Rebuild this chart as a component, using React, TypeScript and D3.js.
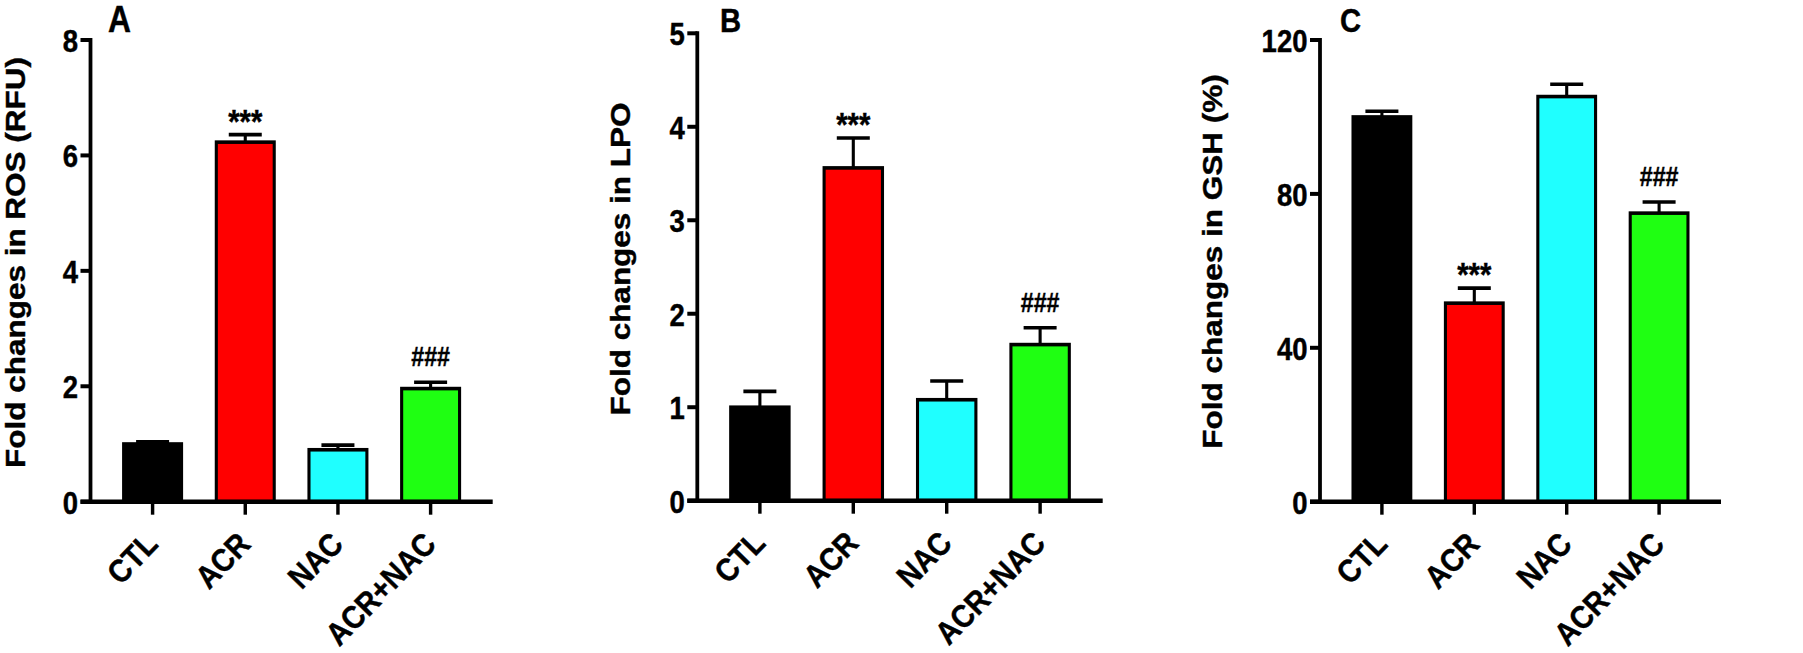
import React from "react";
import * as d3 from "d3";

const categories = ["CTL", "ACR", "NAC", "ACR+NAC"];
const barColors = ["#000000", "#FF0000", "#1FFFFF", "#1FFF12"];

const rosMean = [1.0, 6.23, 0.9, 1.96];
const rosSem = [0.04, 0.13, 0.08, 0.11];
const rosTicks = [0, 2, 4, 6, 8];
const rosMarks = ["", "***", "", "###"];

const lpoMean = [1.0, 3.56, 1.08, 1.67];
const lpoSem = [0.17, 0.32, 0.2, 0.18];
const lpoTicks = [0, 1, 2, 3, 4, 5];
const lpoMarks = ["", "***", "", "###"];

const gshMean = [100, 51.6, 105.3, 75.0];
const gshSem = [1.5, 3.9, 3.2, 2.9];
const gshTicks = [0, 40, 80, 120];
const gshMarks = ["", "***", "", "###"];

const SX = 0.86; // horizontal condensing of the original figure
const FONT = "'Liberation Sans', Arial, Helvetica, sans-serif";
const TXT = { fontFamily: FONT, fontWeight: 700 as const, stroke: "#000", strokeWidth: 0.45 };

type PanelProps = {
  letter: string;
  letterX: number;
  letterSize: number;
  axisX: number;
  xEnd: number;
  yTop: number;
  y0: number;
  ticks: number[];
  means: number[];
  sems: number[];
  marks: string[];
  title: string;
  titleX: number;
  titleY: number;
};

function Panel(p: PanelProps) {
  const ax = p.axisX / SX;
  const xe = p.xEnd / SX;
  const x = d3.scalePoint<string>().domain(categories).range([ax, xe]).padding(0.67);
  const step = x.step();
  const bw = step * 0.625;
  const y = d3
    .scaleLinear()
    .domain([0, p.ticks[p.ticks.length - 1]])
    .range([p.y0, p.yTop]);
  const tickLen = 10 / SX;
  const sw = 3.6;
  const capHalf = 16.5 / SX;
  return (
    <g>
      <g transform={`scale(${SX},1)`}>
        <text x={p.letterX / SX} y={32} fontSize={p.letterSize} {...TXT}>
          {p.letter}
        </text>
        <text
          transform={`translate(${p.titleX / SX},${p.titleY}) rotate(-90)`}
          textAnchor="middle"
          fontSize={31.5}
          {...TXT}
        >
          {p.title}
        </text>
        {categories.map((c, i) => {
          const cx = x(c)!;
          const top = y(p.means[i]);
          const errTop = y(p.means[i] + p.sems[i]);
          return (
            <g key={c}>
              <line x1={cx} x2={cx} y1={top} y2={errTop} stroke="#000" strokeWidth={sw} />
              <line
                x1={cx - capHalf}
                x2={cx + capHalf}
                y1={errTop}
                y2={errTop}
                stroke="#000"
                strokeWidth={sw}
              />
              <rect
                x={cx - bw / 2}
                y={top}
                width={bw}
                height={p.y0 - top}
                fill={barColors[i]}
                stroke="#000"
                strokeWidth={sw}
              />
              {p.marks[i] && (
                <text
                  x={cx}
                  y={p.marks[i] === "***" ? errTop - 2 : errTop - 16}
                  textAnchor="middle"
                  fontSize={p.marks[i] === "***" ? 34 : 27}
                  {...TXT}
                >
                  {p.marks[i]}
                </text>
              )}
              <line x1={cx} x2={cx} y1={p.y0} y2={p.y0 + 13} stroke="#000" strokeWidth={4} />
            </g>
          );
        })}
        {/* y axis */}
        <line x1={ax} x2={ax} y1={p.yTop - 2} y2={p.y0 + 2} stroke="#000" strokeWidth={4.4} />
        {p.ticks.map((t) => (
          <g key={t}>
            <line
              x1={ax - tickLen}
              x2={ax}
              y1={y(t)}
              y2={y(t)}
              stroke="#000"
              strokeWidth={4}
            />
            <text
              x={ax - tickLen - 2.5 / SX}
              y={y(t) + 12}
              textAnchor="end"
              fontSize={32}
              {...TXT}
            >
              {t}
            </text>
          </g>
        ))}
        {/* x axis */}
        <line x1={ax - tickLen} x2={xe} y1={p.y0} y2={p.y0} stroke="#000" strokeWidth={4.6} />
      </g>
      {/* category labels, drawn upright (no shear) */}
      {categories.map((c) => {
        const cxd = x(c)! * SX;
        return (
          <text
            key={c}
            transform={`translate(${cxd + 7},${p.y0 + 44}) rotate(-46) scale(0.9,1)`}
            textAnchor="end"
            fontSize={32}
            {...TXT}
          >
            {c}
          </text>
        );
      })}
    </g>
  );
}

export default function App() {
  return (
    <svg
      width={1803}
      height={653}
      style={{ position: "absolute", left: 0, top: 0, background: "#fff" }}
    >
      <rect width={1803} height={653} fill="#fff" />
      <Panel
        letter="A"
        letterX={108}
        letterSize={37}
        axisX={90.5}
        xEnd={492.7}
        yTop={40}
        y0={501.7}
        ticks={rosTicks}
        means={rosMean}
        sems={rosSem}
        marks={rosMarks}
        title="Fold changes in ROS (RFU)"
        titleX={25}
        titleY={262.5}
      />
      <Panel
        letter="B"
        letterX={720}
        letterSize={34}
        axisX={697.3}
        xEnd={1102.7}
        yTop={33.3}
        y0={500.7}
        ticks={lpoTicks}
        means={lpoMean}
        sems={lpoSem}
        marks={lpoMarks}
        title="Fold changes in LPO"
        titleX={630}
        titleY={259}
      />
      <Panel
        letter="C"
        letterX={1340}
        letterSize={34}
        axisX={1320}
        xEnd={1721}
        yTop={40}
        y0={501.7}
        ticks={gshTicks}
        means={gshMean}
        sems={gshSem}
        marks={gshMarks}
        title="Fold changes in GSH (%)"
        titleX={1222}
        titleY={261.5}
      />
    </svg>
  );
}
